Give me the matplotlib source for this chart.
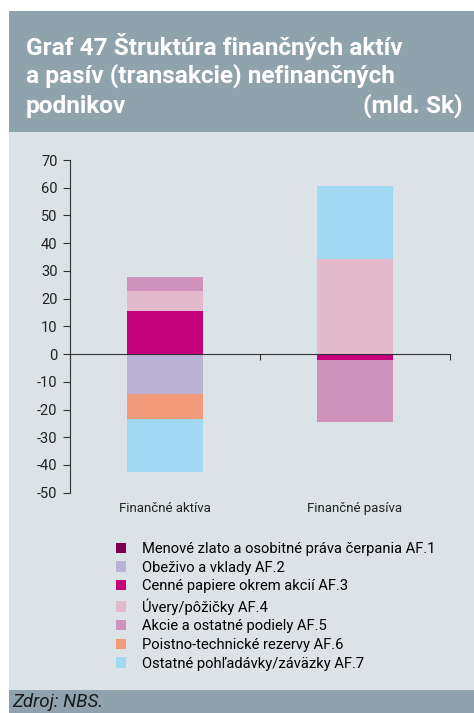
import matplotlib
matplotlib.use("Agg")
import matplotlib.pyplot as plt
from matplotlib.patches import Rectangle, Patch
import numpy as np

# Data (mld. Sk)
categories = ["Finančné aktíva", "Finančné pasíva"]
series_labels = [
    "Menové zlato a osobitné práva čerpania AF.1",
    "Obeživo a vklady AF.2",
    "Cenné papiere okrem akcií AF.3",
    "Úvery/pôžičky AF.4",
    "Akcie a ostatné podiely AF.5",
    "Poistno-technické rezervy AF.6",
    "Ostatné pohľadávky/záväzky AF.7",
]
af1 = [0.0, 0.0]
af2 = [-14.4, 0.0]
af3 = [15.5, -2.2]
af4 = [7.2, 34.2]
af5 = [5.2, -22.2]
af6 = [-9.0, 0.0]
af7 = [-19.0, 26.4]
series_values = [af1, af2, af3, af4, af5, af6, af7]
series_colors = ["#7B0051", "#BBB3D6", "#C4007A", "#E4B9CB",
                 "#CF92BB", "#F29A7A", "#A1D9F2"]
y_ticks = list(range(-50, 71, 10))

W, H = 474, 713
fig = plt.figure(figsize=(W / 100, H / 100), dpi=100)
fig.patch.set_facecolor("white")

band = "#8FA3AD"
panel = "#DCE3E7"

def px_rect(x0, y0, x1, y1, color):
    fig.patches.append(Rectangle((x0 / W, 1 - y1 / H), (x1 - x0) / W, (y1 - y0) / H,
                                 transform=fig.transFigure, facecolor=color,
                                 edgecolor="none", zorder=-5))

px_rect(9, 11, W, 132, band)
px_rect(9, 132, W, 690, panel)
px_rect(9, 690, W, H, band)

title_font = ["Roboto", "DejaVu Sans"]
body_font = ["Roboto", "DejaVu Sans"]
title_lines = ["Graf 47 Štruktúra finančných aktív",
               "a pasív (transakcie) nefinančných",
               "podnikov"]
for i, line in enumerate(title_lines):
    fig.text(26 / W, 1 - (46 + i * 30) / H, line, color="white", fontsize=17.6,
             fontweight="bold", family=title_font, va="center", ha="left")
fig.text(463 / W, 1 - 106 / H, "(mld. Sk)", color="white", fontsize=17.6,
         fontweight="bold", family=title_font, va="center", ha="right")

fig.text(12 / W, 1 - 702 / H, "Zdroj: NBS.", fontsize=13.5, style="italic",
         color="#1a1a1a", va="center", ha="left", family=body_font)

# Chart axes
ax = fig.add_axes([70 / W, 1 - 492.7 / H, 380 / W, (492.7 - 160) / H])
ax.set_facecolor("none")
x = np.arange(len(categories)) + 0.5
pos_base = np.zeros(len(categories))
neg_base = np.zeros(len(categories))
for vals, col, lab in zip(series_values, series_colors, series_labels):
    v = np.array(vals)
    bottoms = np.where(v >= 0, pos_base, neg_base)
    ax.bar(x, v, width=0.405, bottom=bottoms, color=col, label=lab,
           edgecolor="none", zorder=2)
    pos_base = pos_base + np.where(v > 0, v, 0)
    neg_base = neg_base + np.where(v < 0, v, 0)

ax.set_xlim(0, 2)
ax.set_ylim(-50, 70)
ax.set_yticks(y_ticks)
ax.set_yticklabels([str(t) for t in y_ticks], family=body_font,
                   fontsize=10.5, color="#222222")
ax.spines["top"].set_visible(False)
ax.spines["right"].set_visible(False)
ax.spines["bottom"].set_position(("data", 0))
ax.spines["bottom"].set_color("#333333")
ax.spines["bottom"].set_zorder(3)
ax.spines["left"].set_color("#333333")
ax.set_xticks([0, 1, 2])
ax.set_xticklabels([])
ax.tick_params(axis="x", direction="out", length=4, color="#333333")
ax.tick_params(axis="y", direction="out", length=5, color="#333333", pad=4)

for xi, cat in zip(x, categories):
    ax.text(xi, -0.028, cat, transform=ax.get_xaxis_transform(), ha="center", va="top",
            fontsize=9.5, family=body_font, color="#222222")

handles = [Patch(facecolor=c, edgecolor="none") for c in series_colors]
fig.legend(handles, series_labels, loc="upper left",
           bbox_to_anchor=(110 / W, 1 - 536 / H), frameon=False,
           prop={"family": body_font, "size": 10.6},
           handlelength=0.7, handleheight=0.7, handletextpad=1.1,
           labelspacing=0.32, borderaxespad=0)

fig.savefig("out.png", dpi=100, facecolor="white")
